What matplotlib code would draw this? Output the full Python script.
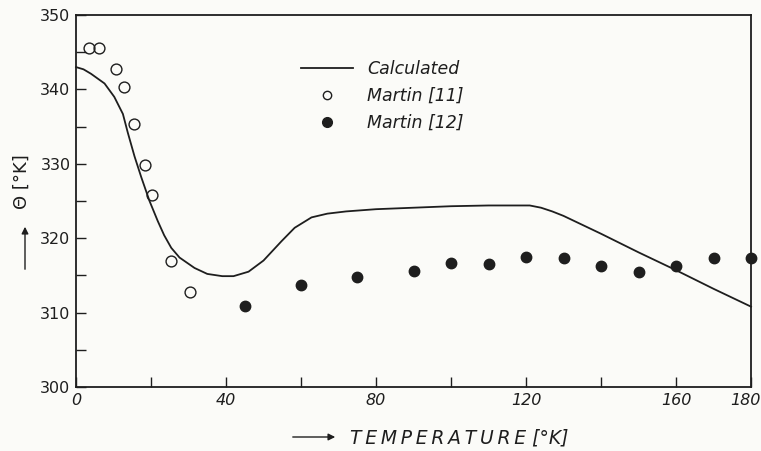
import matplotlib
matplotlib.use("Agg")
import matplotlib.pyplot as plt
from matplotlib.lines import Line2D
from matplotlib.transforms import ScaledTranslation

# Calculated curve
calc_t = [0, 2, 4, 7.6, 10.2, 12.5, 13.8, 15.6, 17.4, 19.6, 21.8, 23.5, 25.4, 27.6,
          31.6, 35, 39, 42, 46, 50, 54.8, 58.3, 62.8, 67, 72, 80, 90, 100, 110,
          121, 124, 127, 130, 140, 150, 160, 170, 180]
calc_theta = [343, 342.7, 342.1, 340.8, 339.0, 336.7, 334.2, 331.0, 328.2, 325.0,
              322.3, 320.4, 318.7, 317.4, 316.0, 315.2, 314.9, 314.9, 315.5, 317.0,
              319.6, 321.4, 322.8, 323.3, 323.6, 323.9, 324.1, 324.3, 324.4, 324.4,
              324.1, 323.6, 323.0, 320.6, 318.1, 315.7, 313.2, 310.8]

# Martin [11] (open circles)
m11_t = [3.5, 6.0, 10.7, 12.8, 15.5, 18.4, 20.3, 25.4, 30.5]
m11_theta = [345.5, 345.5, 342.7, 340.3, 335.4, 329.9, 325.8, 317.0, 312.8]

# Martin [12] (filled circles)
m12_t = [45, 60, 75, 90, 100, 110, 120, 130, 140, 150, 160, 170, 180]
m12_theta = [310.9, 313.7, 314.8, 315.6, 316.7, 316.5, 317.5, 317.4, 316.3, 315.4,
             316.2, 317.3, 317.3]

x_ticks = [0, 20, 40, 60, 80, 100, 120, 140, 160, 180]
x_labels = ["0", "", "40", "", "80", "", "120", "", "160", "180"]
y_ticks = [300, 305, 310, 315, 320, 325, 330, 335, 340, 345, 350]
y_labels = ["300", "", "310", "", "320", "", "330", "", "340", "", "350"]

bg = "#fbfbf8"
ink = "#1e1e1e"

fig = plt.figure(figsize=(7.61, 4.51), dpi=100, facecolor=bg)
ax = fig.add_axes([0.0999, 0.1419, 0.8870, 0.8248])
ax.set_facecolor(bg)

ax.plot(calc_t, calc_theta, color=ink, lw=1.3, clip_on=False, zorder=3)
ax.plot(m11_t, m11_theta, linestyle="none", marker="o", markersize=7.8,
        markerfacecolor="none", markeredgecolor=ink, markeredgewidth=1.0,
        clip_on=False, zorder=4)
ax.plot(m12_t, m12_theta, linestyle="none", marker="o", markersize=7.5,
        markerfacecolor=ink, markeredgecolor=ink, clip_on=False, zorder=4)

ax.set_xlim(0, 180)
ax.set_ylim(300, 350)
ax.set_xticks(x_ticks)
ax.set_xticklabels(x_labels, fontsize=11.5, style="italic", color=ink)
ax.set_yticks(y_ticks)
ax.set_yticklabels(y_labels, fontsize=11.5, color=ink)
ax.tick_params(direction="in", length=7, width=1.0, color=ink, pad=4)
for s in ax.spines.values():
    s.set_color(ink)
    s.set_linewidth(1.3)
last = ax.get_xticklabels()[-1]
last.set_transform(last.get_transform() + ScaledTranslation(-6 / 100, 0, fig.dpi_scale_trans))

# Legend
handles = [
    Line2D([], [], color=ink, lw=1.3),
    Line2D([], [], linestyle="none", marker="o", markersize=6,
           markerfacecolor="none", markeredgecolor=ink),
    Line2D([], [], linestyle="none", marker="o", markersize=7,
           markerfacecolor=ink, markeredgecolor=ink),
]
leg = ax.legend(handles, ["Calculated", "Martin [11]", "Martin [12]"],
                loc="upper left", bbox_to_anchor=(0.31, 0.92), frameon=False,
                prop={"size": 12.5, "style": "italic"}, handlelength=3.0,
                labelspacing=0.5, handletextpad=0.8)
for t in leg.get_texts():
    t.set_color(ink)

# Axis labels
thin = "\u2009"
fig.text(350 / 761, 1 - 438 / 451, thin.join("TEMPERATURE") + " [°K]", fontsize=13.5,
         style="italic", color=ink, ha="left", va="center")
ax.annotate("", xy=(338 / 761, 1 - 437 / 451), xytext=(290 / 761, 1 - 437 / 451),
            xycoords="figure fraction", textcoords="figure fraction",
            arrowprops=dict(arrowstyle="-|>", color=ink, lw=1.0,
                            mutation_scale=10))
fig.text(22 / 761, 1 - 182 / 451, "Θ [°K]", fontsize=13, rotation=90,
         color=ink, ha="center", va="center")
ax.annotate("", xy=(25 / 761, 1 - 224 / 451), xytext=(25 / 761, 1 - 272 / 451),
            xycoords="figure fraction", textcoords="figure fraction",
            arrowprops=dict(arrowstyle="-|>", color=ink, lw=1.0,
                            mutation_scale=10))

fig.savefig("out.png", dpi=100, facecolor=bg)
